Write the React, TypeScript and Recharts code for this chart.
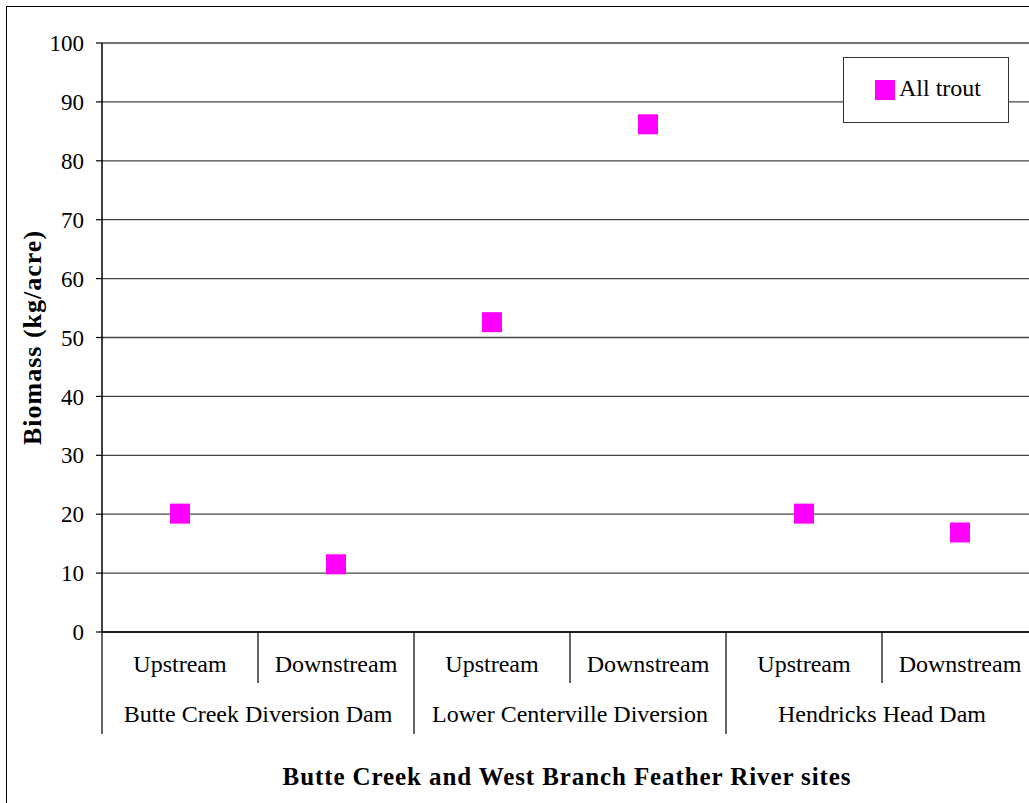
import React from "react";
import {
  ScatterChart,
  Scatter,
  XAxis,
  YAxis,
  CartesianGrid,
  Legend,
} from "recharts";

const siteLabels = ["Upstream", "Downstream", "Upstream", "Downstream", "Upstream", "Downstream"];
const groupLabels = ["Butte Creek Diversion Dam", "Lower Centerville Diversion", "Hendricks Head Dam"];
const biomass = [20.1, 11.5, 52.6, 86.2, 20.1, 16.9];
const yTicks = [0, 10, 20, 30, 40, 50, 60, 70, 80, 90, 100];
const xTicks = [0, 1, 2, 3, 4, 5, 6];
const seriesName = "All trout";
const yTitle = "Biomass (kg/acre)";
const xTitle = "Butte Creek and West Branch Feather River sites";

const data = biomass.map((v, i) => ({ x: i + 0.5, y: v, site: siteLabels[i] }));

const FONT = '"Liberation Serif", "Times New Roman", serif';
const CHART_W = 1060;
const CHART_H = 812;
const MARGIN = { top: 43, right: 22, left: 0, bottom: 20 };
const Y_W = 102;
const MARKER = 20;

const XTick = (props: any) => {
  const { x, y, payload } = props;
  const i = payload.value as number;
  const half = (CHART_W - MARGIN.right - Y_W) / 12;
  const inner = i % 2 === 1;
  return (
    <g>
      <line x1={x} y1={y} x2={x} y2={y + (inner ? 51 : 102)} stroke="#000" strokeWidth={1.2} />
      {i < 6 && (
        <text x={x + half} y={y + 40} textAnchor="middle" fontFamily={FONT} fontSize={24} fill="#000">
          {siteLabels[i]}
        </text>
      )}
      {i < 6 && i % 2 === 0 && (
        <text x={x + half * 2} y={y + 90} textAnchor="middle" fontFamily={FONT} fontSize={24} fill="#000">
          {groupLabels[i / 2]}
        </text>
      )}
    </g>
  );
};

const YTitle = (props: any) => {
  const vb = props.viewBox || {};
  const cx = 32;
  const cy = (vb.y ?? 43) + (vb.height ?? 589) / 2;
  return (
    <text
      x={cx}
      y={cy}
      transform={`rotate(-90, ${cx}, ${cy})`}
      textAnchor="middle"
      dominantBaseline="central"
      fontFamily={FONT}
      fontWeight="bold"
      fontSize={26}
      letterSpacing={1}
      fill="#000"
    >
      {yTitle}
    </text>
  );
};

const XTitle = (props: any) => {
  const vb = props.viewBox || {};
  const cx = (vb.x ?? 102) + (vb.width ?? 936) / 2 - 3;
  return (
    <text
      x={cx}
      y={785}
      textAnchor="middle"
      fontFamily={FONT}
      fontWeight="bold"
      fontSize={25}
      letterSpacing={0.9}
      fill="#000"
    >
      {xTitle}
    </text>
  );
};

const LegendBox = (props: any) => {
  const item = (props.payload && props.payload[0]) || { value: seriesName, color: "#FF00FF" };
  return (
    <div
      style={{
        position: "relative",
        width: 166,
        height: 66,
        boxSizing: "border-box",
        border: "1px solid #333",
        background: "#fff",
        fontFamily: FONT,
      }}
    >
      <div
        style={{
          position: "absolute",
          left: 31,
          top: 22,
          width: MARKER,
          height: MARKER,
          background: "#FF00FF",
        }}
      />
      <div
        style={{
          position: "absolute",
          left: 55,
          top: 16,
          fontSize: 24,
          lineHeight: "28px",
          color: "#000",
          whiteSpace: "nowrap",
        }}
      >
        {item.value}
      </div>
    </div>
  );
};

const SquareShape = (props: any) => {
  const { cx, cy, fill } = props;
  if (cx == null || cy == null) return null;
  return <rect x={cx - MARKER / 2} y={cy - MARKER / 2} width={MARKER} height={MARKER} fill={fill} />;
};

export default function App() {
  return (
    <div
      style={{
        position: "absolute",
        left: 0,
        top: 0,
        width: 1029,
        height: 803,
        overflow: "hidden",
        background: "#fff",
      }}
    >
      <div
        style={{
          position: "absolute",
          left: 6,
          top: 6,
          width: 1200,
          height: 1000,
          border: "1px solid #000",
          boxSizing: "border-box",
        }}
      />
      <div style={{ position: "absolute", left: 0, top: 0 }}>
        <ScatterChart width={CHART_W} height={CHART_H} margin={MARGIN}>
          <CartesianGrid vertical={false} stroke="#444" strokeWidth={1.3} />
          <XAxis
            type="number"
            dataKey="x"
            domain={[0, 6]}
            ticks={xTicks}
            interval={0}
            tickLine={false}
            tickSize={0}
            tickMargin={0}
            height={160}
            axisLine={{ stroke: "#000", strokeWidth: 1.5 }}
            tick={<XTick />}
            label={<XTitle />}
          />
          <YAxis
            type="number"
            dataKey="y"
            domain={[0, 100]}
            ticks={yTicks}
            interval={0}
            width={Y_W}
            tickSize={6}
            tickMargin={12}
            axisLine={{ stroke: "#000", strokeWidth: 1.5 }}
            tickLine={{ stroke: "#000", strokeWidth: 1.2 }}
            tick={{ fontFamily: FONT, fontSize: 23, fill: "#000" }}
            label={<YTitle />}
          />
          <Legend
            layout="vertical"
            align="center"
            verticalAlign="middle"
            content={<LegendBox />}
            wrapperStyle={{ position: "absolute", left: 843, top: 57, width: 166, height: 66 }}
          />
          <Scatter
            name={seriesName}
            data={data}
            fill="#FF00FF"
            shape={<SquareShape />}
            isAnimationActive={false}
          />
        </ScatterChart>
      </div>
    </div>
  );
}
